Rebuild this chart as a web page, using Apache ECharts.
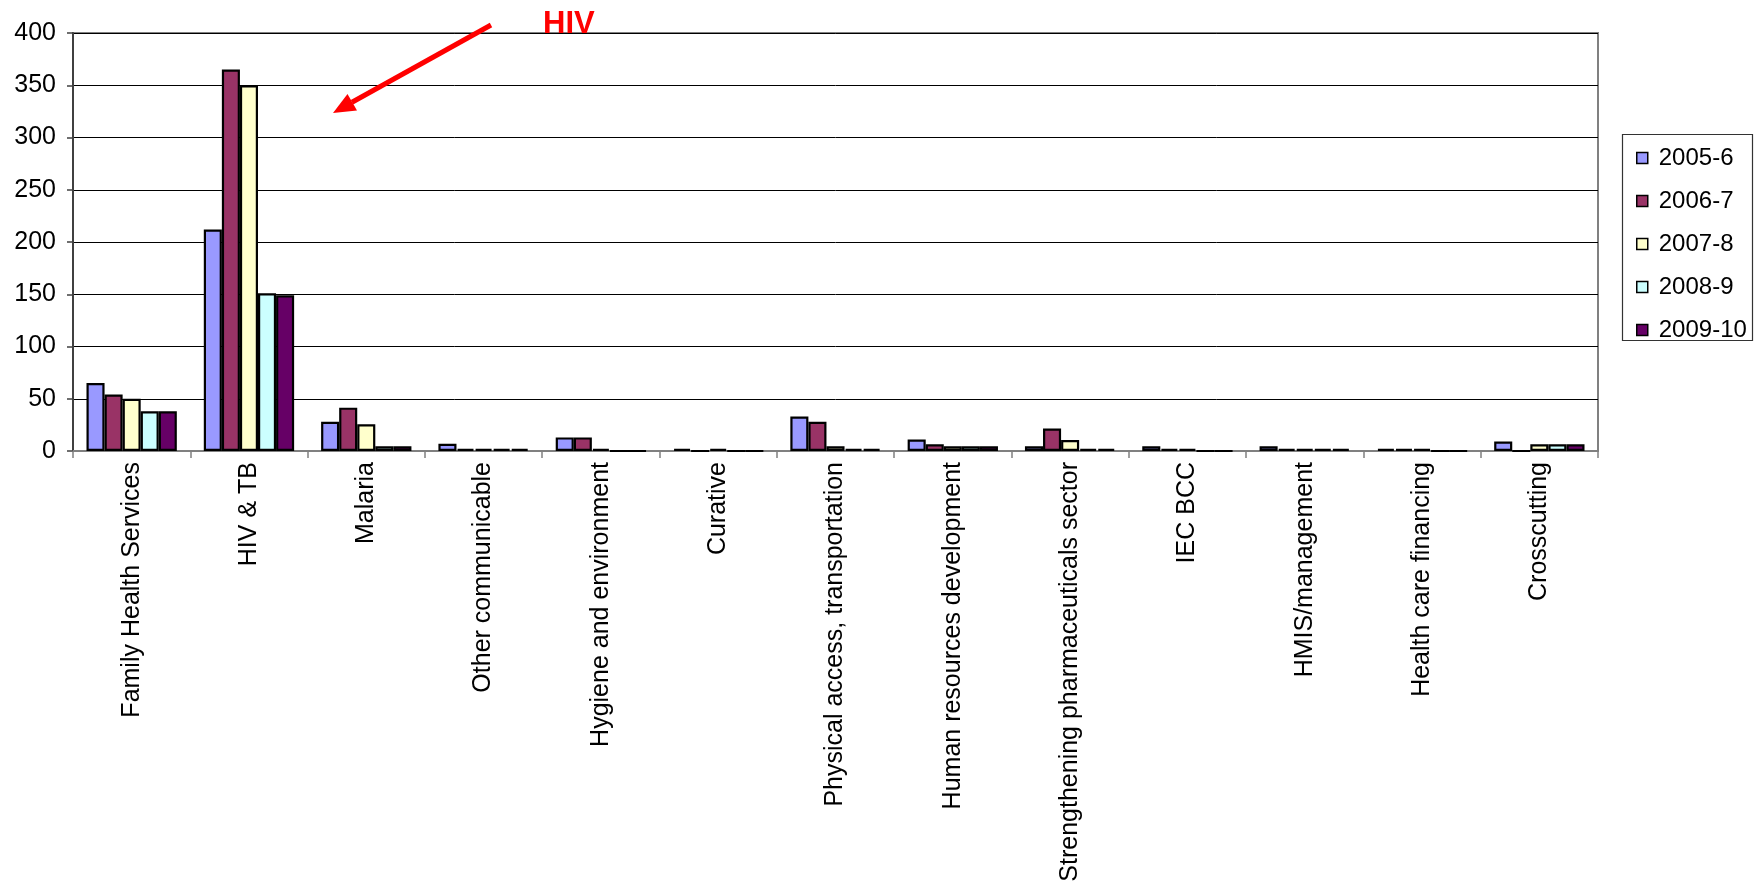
<!DOCTYPE html>
<html>
<head>
<meta charset="utf-8">
<script src="https://cdn.jsdelivr.net/npm/echarts@6/dist/echarts.min.js"></script>
<style>
html,body{margin:0;padding:0;background:#fff;}
#chart{width:1762px;height:882px;}
</style>
</head>
<body>
<div id="chart"></div>
<script>
const categories = ['Family Health Services','HIV & TB','Malaria','Other communicable','Hygiene and environment','Curative','Physical access, transportation','Human resources development','Strengthening pharmaceuticals sector','IEC BCC','HMIS/management','Health care financing','Crosscutting'];
const seriesNames = ['2005-6','2006-7','2007-8','2008-9','2009-10'];
const v2005 = [65, 212, 28, 7, 13, 2, 33, 11, 4.5, 4.5, 4.5, 2, 9];
const v2006 = [54, 365, 41.5, 2, 13, 0, 28, 6.5, 21.5, 2, 2, 2, 0];
const v2007 = [50, 350, 25.5, 2, 2, 2, 4.5, 4.5, 10.5, 2, 2, 2, 6.5];
const v2008 = [38, 151, 4.5, 2, 0, 0, 2, 4.5, 2, 0, 2, 0, 6.5];
const v2009 = [38, 149, 4.5, 2, 0, 0, 2, 4.5, 2, 0, 2, 0, 6.5];
const yTicks = [0, 50, 100, 150, 200, 250, 300, 350, 400];
const annotationText = 'HIV';

const colors = ['#9999FF','#993366','#FFFFCC','#CCFFFF','#660066'];
const values = [v2005, v2006, v2007, v2008, v2009];
const FONT = "'Liberation Sans', Arial, sans-serif";

const chart = echarts.init(document.getElementById('chart'));
const series = seriesNames.map((n, i) => ({
  name: n,
  type: 'bar',
  data: values[i],
  barGap: '0%',
  barCategoryGap: '23%',
  itemStyle: { color: colors[i], borderColor: '#000', borderWidth: 2.2 },
  emphasis: { disabled: true },
  animation: false
}));

chart.setOption({
  backgroundColor: '#fff',
  animation: false,
  grid: {
    left: 73, right: 164, top: 33, bottom: 431,
    containLabel: false, outerBoundsMode: 'none',
    show: true, borderColor: '#808080', borderWidth: 2, backgroundColor: 'transparent'
  },
  legend: {
    orient: 'vertical', left: 1631, top: 140,
    itemWidth: 11, itemHeight: 11, itemGap: 17, icon: 'rect',
    itemStyle: { borderColor: '#000', borderWidth: 1.5 },
    textStyle: { fontSize: 24, lineHeight: 26, color: '#000', fontFamily: FONT, padding: [0, 0, 0, 6] },
    data: seriesNames,
    selectedMode: false
  },
  xAxis: {
    type: 'category',
    data: categories,
    axisLine: { show: true, lineStyle: { color: '#808080', width: 2 } },
    axisTick: { show: true, alignWithLabel: false, length: 7, lineStyle: { color: '#808080', width: 1.5 } },
    axisLabel: { interval: 0, rotate: 90, margin: 11, fontSize: 25, color: '#000', fontFamily: FONT },
    splitLine: { show: false }
  },
  yAxis: {
    type: 'value',
    min: yTicks[0], max: yTicks[yTicks.length - 1], interval: yTicks[1] - yTicks[0],
    axisLine: { show: true, lineStyle: { color: '#404040', width: 2 } },
    axisTick: { show: true, length: 6, lineStyle: { color: '#404040', width: 1.5 } },
    axisLabel: { margin: 17, fontSize: 25, color: '#000', fontFamily: FONT },
    splitLine: { show: true, lineStyle: { color: '#000', width: 1 } }
  },
  series: series,
  graphic: [
    { type: 'rect', shape: { x: 1622.5, y: 134.5, width: 130, height: 206 },
      style: { fill: 'none', stroke: '#333', lineWidth: 1.2 }, z: 10 },
    { type: 'text', x: 543, y: 24, z: 20,
      style: { text: annotationText, fill: '#FF0000', fontSize: 31, fontWeight: 'bold', fontFamily: FONT, verticalAlign: 'middle', align: 'left' } },
    { type: 'line', z: 20, shape: { x1: 491, y1: 25, x2: 352, y2: 102.3 },
      style: { stroke: '#FF0000', lineWidth: 5 } },
    { type: 'polygon', z: 20, shape: { points: [[333, 113], [357, 110.5], [347.5, 94]] },
      style: { fill: '#FF0000' } }
  ]
});
</script>
</body>
</html>
